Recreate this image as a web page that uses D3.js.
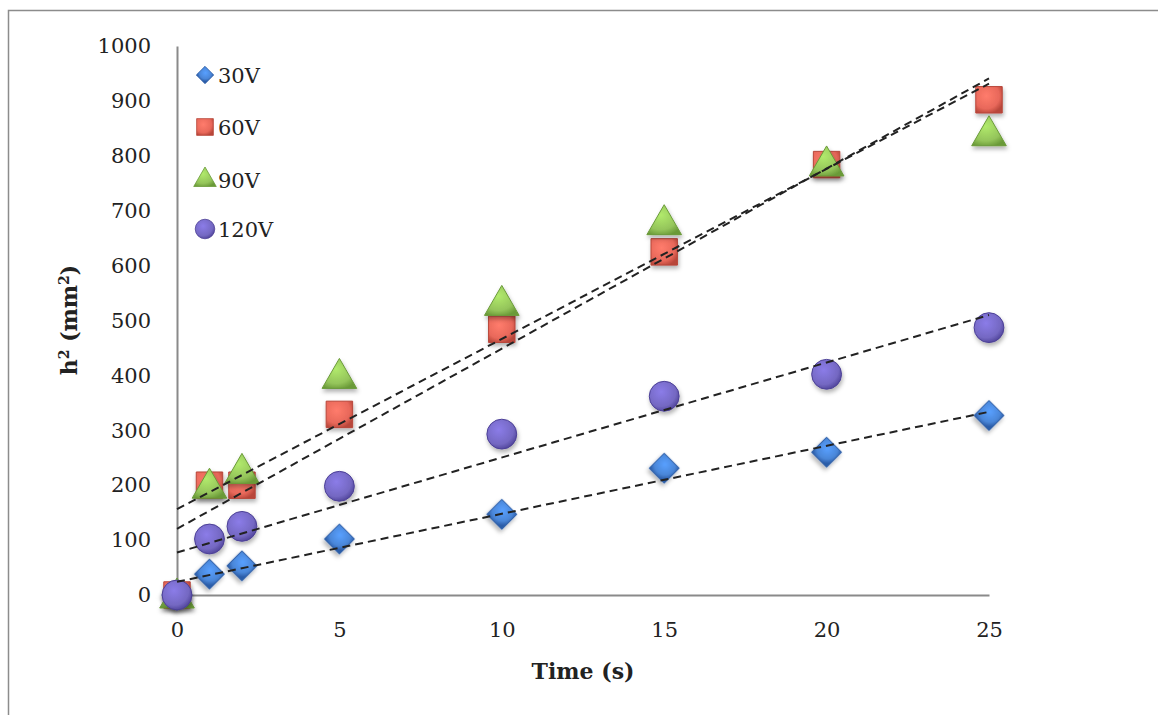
<!DOCTYPE html>
<html>
<head>
<meta charset="utf-8">
<script src="https://cdn.jsdelivr.net/npm/d3@7"></script>
<style>
  body { margin: 0; background: #fff; }
  text { font-family: "DejaVu Serif", serif; fill: #222; }
</style>
</head>
<body>
<svg id="canvas" width="1158" height="715"></svg>
<script>
const times = [0, 1, 2, 5, 10, 15, 20, 25];
const h30 = [0, 38, 53, 102, 147, 231, 260, 327];
const h60 = [0, 200, 200, 329, 484, 625, 784, 902];
const h90 = [0, 200, 227, 400, 533, 680, 787, 842];
const h120 = [0, 102, 125, 198, 293, 362, 402, 487];
const seriesNames = ["30V", "60V", "90V", "120V"];
const yTicks = [0, 100, 200, 300, 400, 500, 600, 700, 800, 900, 1000];
const xTicks = [0, 5, 10, 15, 20, 25];

const series = [
  {name: seriesNames[0], values: h30, shape: "diamond", color: "#4a86d8", dark: "#2c5da8"},
  {name: seriesNames[1], values: h60, shape: "square", color: "#e8685a", dark: "#b8463a"},
  {name: seriesNames[2], values: h90, shape: "triangle", color: "#94c45a", dark: "#6a9a38"},
  {name: seriesNames[3], values: h120, shape: "circle", color: "#7468c2", dark: "#4c4096"}
];

let svg = d3.select("#canvas");

let x = d3.scaleLinear().domain([0, 25]).range([177, 989]);
let y = d3.scaleLinear().domain([0, 1000]).range([595, 46]);

// outer chart frame
svg.append("rect")
  .attr("x", 8.5).attr("y", 10.5)
  .attr("width", 1170).attr("height", 720)
  .attr("fill", "none").attr("stroke", "#8c8c8c").attr("stroke-width", 1.5);

let defs = svg.append("defs");
series.forEach((s, i) => {
  let g = defs.append("radialGradient").attr("id", "grad" + i)
    .attr("cx", "40%").attr("cy", "35%").attr("r", "70%");
  g.append("stop").attr("offset", "0%").attr("stop-color", d3.color(s.color).brighter(0.5));
  g.append("stop").attr("offset", "70%").attr("stop-color", s.color);
  g.append("stop").attr("offset", "100%").attr("stop-color", s.dark);
});
let shadow = defs.append("filter").attr("id", "shadow")
  .attr("x", "-50%").attr("y", "-50%").attr("width", "200%").attr("height", "200%");
shadow.append("feDropShadow").attr("dx", 1).attr("dy", 3).attr("stdDeviation", 2)
  .attr("flood-color", "#000").attr("flood-opacity", 0.3);

// axes
let yAxis = d3.axisLeft(y).tickValues(yTicks).tickSize(0).tickPadding(26).tickFormat(d3.format("d"));
let xAxis = d3.axisBottom(x).tickValues(xTicks).tickSize(0).tickPadding(27).tickFormat(d3.format("d"));

let gy = svg.append("g").attr("transform", "translate(177,0)").call(yAxis);
let gx = svg.append("g").attr("transform", "translate(0,595)").call(xAxis);
[gx, gy].forEach(g => {
  g.select(".domain").attr("stroke", "#8a8a8a").attr("stroke-width", 2);
  g.selectAll("text").attr("font-family", "DejaVu Serif").attr("font-size", 21).attr("fill", "#222");
});

svg.append("text")
  .attr("x", 583).attr("y", 679)
  .attr("text-anchor", "middle")
  .attr("font-size", 22).attr("font-weight", "bold")
  .text("Time (s)");

svg.append("text")
  .attr("transform", "translate(77,320) rotate(-90)")
  .attr("text-anchor", "middle")
  .attr("font-size", 22).attr("font-weight", "bold")
  .html('h<tspan dy="-8" font-size="14">2</tspan><tspan dy="8"> (mm</tspan><tspan dy="-8" font-size="14">2</tspan><tspan dy="8">)</tspan>');

// diamond drawn as a square turned by 45 degrees
let symbolFor = (shape, size) => {
  let type = {diamond: d3.symbolSquare, square: d3.symbolSquare, triangle: d3.symbolTriangle, circle: d3.symbolCircle}[shape];
  return d3.symbol().type(type).size(size)();
};
let sizeFor = {diamond: 450, square: 700, triangle: 520, circle: 700};
let turn = (shape) => shape === "diamond" ? " rotate(45)" : "";

// markers
series.forEach((s, i) => {
  svg.append("g")
    .selectAll("path")
    .data(s.values)
    .enter()
    .append("path")
    .attr("d", symbolFor(s.shape, sizeFor[s.shape]))
    .attr("transform", (d, j) => `translate(${x(times[j])},${y(d) + (s.shape === "triangle" ? 3 : 0)})` + turn(s.shape))
    .attr("fill", `url(#grad${i})`)
    .attr("stroke", s.dark).attr("stroke-width", 1)
    .attr("filter", "url(#shadow)");
});

// linear trendlines
series.forEach((s) => {
  let mt = d3.mean(times);
  let mv = d3.mean(s.values);
  let num = d3.sum(times, (t, j) => (t - mt) * (s.values[j] - mv));
  let den = d3.sum(times, (t) => (t - mt) * (t - mt));
  let slope = num / den;
  let icpt = mv - slope * mt;
  svg.append("line")
    .attr("x1", x(0)).attr("y1", y(icpt))
    .attr("x2", x(25)).attr("y2", y(icpt + slope * 25))
    .attr("stroke", "#222").attr("stroke-width", 2)
    .attr("stroke-dasharray", "8,5");
});

// legend
let legend = svg.append("g");
let legendY = [75, 127, 180, 229];
let legendSize = {diamond: 150, square: 280, triangle: 220, circle: 300};
series.forEach((s, i) => {
  legend.append("path")
    .attr("d", symbolFor(s.shape, legendSize[s.shape]))
    .attr("transform", `translate(205,${legendY[i]})` + turn(s.shape))
    .attr("fill", `url(#grad${i})`)
    .attr("stroke", s.dark).attr("stroke-width", 0.8);
  legend.append("text")
    .attr("x", 218).attr("y", legendY[i] + 8)
    .attr("font-size", 21)
    .text(s.name);
});
</script>
</body>
</html>
